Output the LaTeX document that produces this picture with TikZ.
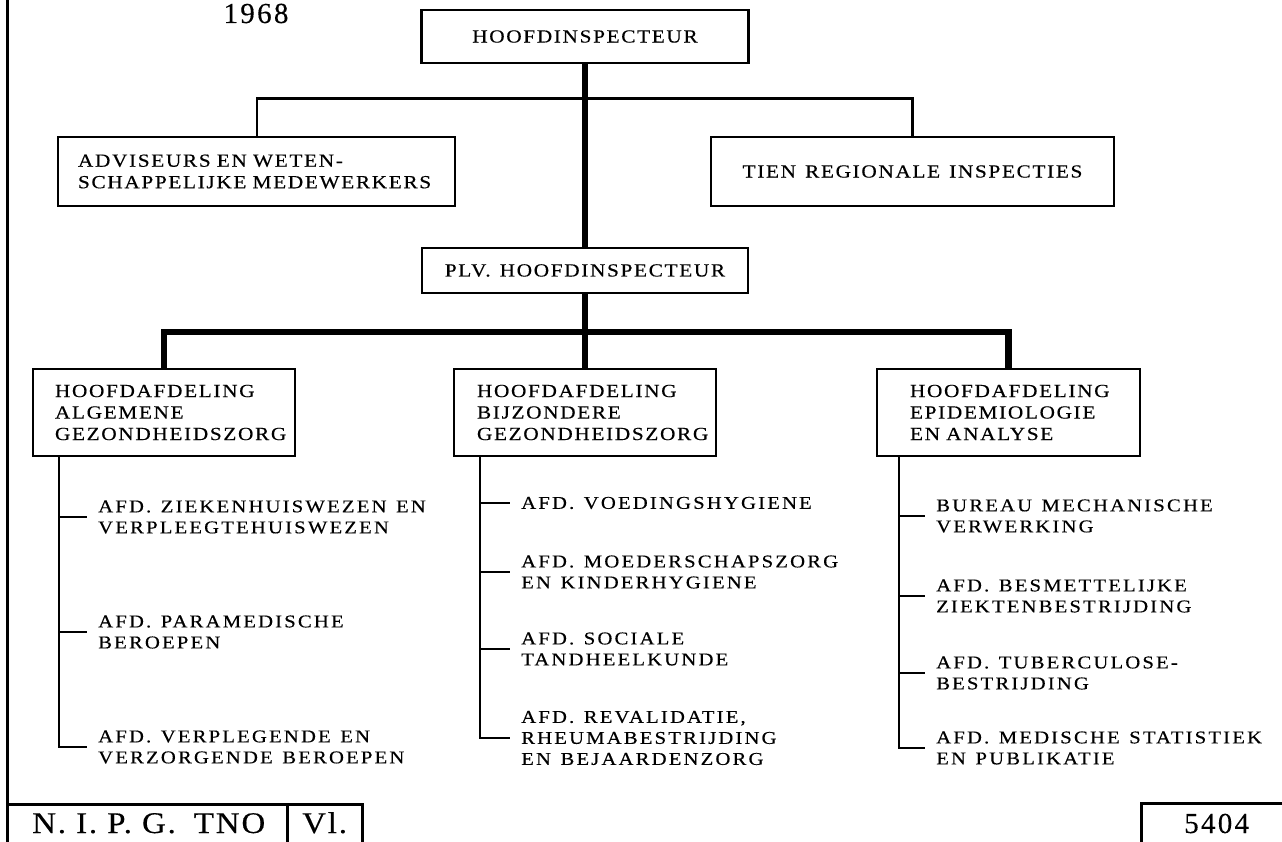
\documentclass[tikz,border=0pt]{standalone}
\usepackage{fontspec}
\setmainfont{Liberation Serif}[FakeStretch=1.15, LetterSpace=9, FakeBold=0.35, WordSpace=1.3]
\newfontfamily\itemfam{Liberation Serif}[FakeStretch=1.15, LetterSpace=12, FakeBold=0.35, WordSpace=1.3]
\newfontfamily\bigfont{Liberation Serif}[FakeStretch=1.1, LetterSpace=6, FakeBold=0.35]
\newfontfamily\numfont{Liberation Serif}[LetterSpace=8, FakeBold=0.3]
\newcommand\boxfont{\fontsize{18.5}{21.5}\selectfont}
\newcommand\itemfont{\itemfam\fontsize{18}{21}\selectfont}
\newcommand\nipgfont{\bigfont\fontsize{30}{32}\selectfont}
\newcommand\yearfont{\numfont\fontsize{29}{31}\selectfont}
\begin{document}
\begin{tikzpicture}[x=1pt,y=-1pt,
  box/.style={draw, line width=2.5pt, inner ysep=0pt, font=\boxfont},
  lbox/.style={box, align=left},
  conn/.style={line width=2.5pt},
  mainline/.style={line width=6.5pt},
  border/.style={line width=3pt},
  item/.style={anchor=west, align=left, inner xsep=11pt, inner ysep=0pt, font=\itemfont},
  plain/.style={inner sep=0pt}]
\useasboundingbox (0,0) rectangle (1282,842);
\clip (0,0) rectangle (1282,842);
\fill[white] (0,0) rectangle (1282,842);

% year
\node[plain, anchor=base, font=\yearfont] (year) at (256,23) {1968};

% top level
\node[box, minimum width=327pt, minimum height=53pt, inner xsep=0pt] (hoofd) at (585,36.5) {HOOFDINSPECTEUR};
\node[lbox, text width=357pt, inner xsep=20pt, minimum height=69pt] (adv) at (256.5,171.5)
  {ADVISEURS EN WETEN-\\SCHAPPELIJKE MEDEWERKERS};
\node[box, minimum width=403pt, minimum height=69pt, inner xsep=0pt] (tien) at (912.5,171.5) {TIEN REGIONALE INSPECTIES};
\node[box, minimum width=326pt, minimum height=45pt, inner xsep=0pt] (plv) at (585,270.5) {PLV. HOOFDINSPECTEUR};

% hoofdafdelingen
\node[lbox, text width=218pt, inner xsep=22pt, minimum height=87pt] (left) at (164,412.5)
  {HOOFDAFDELING\\ALGEMENE\\GEZONDHEIDSZORG};
\node[lbox, text width=216pt, inner xsep=23pt, minimum height=87pt] (mid) at (585,412.5)
  {HOOFDAFDELING\\BIJZONDERE\\GEZONDHEIDSZORG};
\node[lbox, text width=197pt, inner xsep=33pt, minimum height=87pt] (right) at (1008.5,412.5)
  {HOOFDAFDELING\\EPIDEMIOLOGIE\\EN ANALYSE};

% connectors top
\path (adv.north west) ++(200,0) coordinate (advj);
\draw[conn] (advj) -- ++(0,-37) -| (tien.north);
\draw[mainline] (hoofd.south) -- (plv.north);
\draw[mainline] (plv.south) -- (mid.north);
\draw[mainline] (left.north) -- ++(0,-36) -| (right.north);

% left column
\path (left.south west) ++(27,0) coordinate (lv);
\node[item] (l1) at (87,517) {AFD. ZIEKENHUISWEZEN EN\\VERPLEEGTEHUISWEZEN};
\node[item] (l2) at (87,632) {AFD. PARAMEDISCHE\\BEROEPEN};
\node[item] (l3) at (87,747) {AFD. VERPLEGENDE EN\\VERZORGENDE BEROEPEN};
\draw[conn] (lv) |- (l3.west);
\draw[conn] (lv |- l1.west) -- (l1.west);
\draw[conn] (lv |- l2.west) -- (l2.west);

% middle column
\path (mid.south west) ++(27,0) coordinate (mv);
\node[item] (m1) at (510,503) {AFD. VOEDINGSHYGIENE};
\node[item] (m2) at (510,572) {AFD. MOEDERSCHAPSZORG\\EN KINDERHYGIENE};
\node[item] (m3) at (510,649) {AFD. SOCIALE\\TANDHEELKUNDE};
\node[item] (m4) at (510,738) {AFD. REVALIDATIE,\\RHEUMABESTRIJDING\\EN BEJAARDENZORG};
\draw[conn] (mv) |- (m4.west);
\draw[conn] (mv |- m1.west) -- (m1.west);
\draw[conn] (mv |- m2.west) -- (m2.west);
\draw[conn] (mv |- m3.west) -- (m3.west);

% right column
\path (right.south west) ++(23,0) coordinate (rv);
\node[item] (r1) at (925,516) {BUREAU MECHANISCHE\\VERWERKING};
\node[item] (r2) at (925,596) {AFD. BESMETTELIJKE\\ZIEKTENBESTRIJDING};
\node[item] (r3) at (925,673) {AFD. TUBERCULOSE-\\BESTRIJDING};
\node[item] (r4) at (925,748) {AFD. MEDISCHE STATISTIEK\\EN PUBLIKATIE};
\draw[conn] (rv) |- (r4.west);
\draw[conn] (rv |- r1.west) -- (r1.west);
\draw[conn] (rv |- r2.west) -- (r2.west);
\draw[conn] (rv |- r3.west) -- (r3.west);

% frame and footer
\draw[border] (7.5,-10) -- (7.5,860);
\draw[border] (7.5,804) -- (362,804) -- (362,860);
\draw[border] (287,804) -- (287,860);
\draw[border] (1141,860) -- (1141,803) -- (1290,803);
\node[plain, anchor=base west, font=\nipgfont] (nipg) at (32,833) {N. I. P. G.\hspace{0.6em}TNO};
\node[plain, anchor=base west, font=\nipgfont] (vl) at (302,833) {Vl.};
\node[plain, anchor=base west, font=\yearfont] (num) at (1184,833) {5404};
\end{tikzpicture}
\end{document}
